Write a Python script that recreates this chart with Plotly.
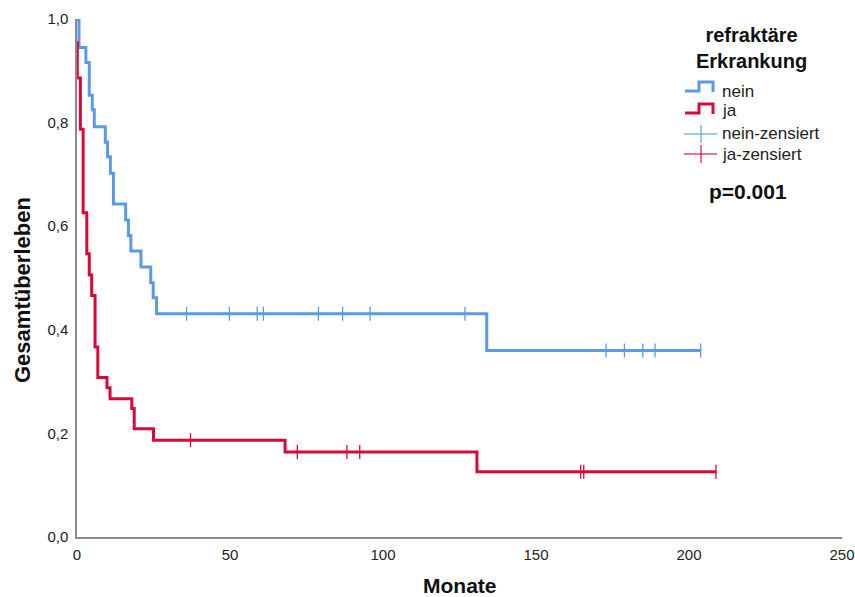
import plotly.graph_objects as go

# ---------------- data ----------------
# group "nein" (blue): times where the survival level changes, and the level after the change
nein_times = [0.0, 0.65, 2.9, 4.0, 5.0, 5.65, 9.25, 10.0, 10.9, 11.9, 15.9, 16.8, 17.6, 20.9, 24.1, 24.9, 26.0, 133.9]
nein_surv = [1.0, 0.945, 0.916, 0.853, 0.825, 0.792, 0.762, 0.734, 0.702, 0.643, 0.612, 0.582, 0.552, 0.521, 0.491, 0.462, 0.431, 0.360]
nein_end = 204.0
nein_censored = [35.8, 49.8, 58.9, 60.9, 78.9, 86.8, 95.8, 126.8, 172.9, 178.9, 184.9, 188.9, 203.8]

# group "ja" (red)
ja_times = [0.0, 0.1, 1.1, 2.0, 3.2, 4.0, 4.8, 5.9, 6.8, 9.8, 10.8, 17.9, 18.7, 25.0, 68.0, 130.7]
ja_surv = [0.954, 0.886, 0.787, 0.626, 0.547, 0.506, 0.466, 0.367, 0.308, 0.288, 0.267, 0.248, 0.209, 0.187, 0.164, 0.126]
ja_end = 209.0
ja_censored = [37.1, 72.0, 88.2, 92.4, 164.6, 165.6, 208.8]

x_ticks = [0, 50, 100, 150, 200, 250]
y_ticks = [0.0, 0.2, 0.4, 0.6, 0.8, 1.0]
y_ticklabels = ["0,0", "0,2", "0,4", "0,6", "0,8", "1,0"]

legend_title = ["refraktäre", "Erkrankung"]
legend_labels = ["nein", "ja", "nein-zensiert", "ja-zensiert"]
p_text = "p=0.001"

BLUE = "#5A9AE6"
RED = "#D9083A"
BLUE_LIGHT = "rgba(90,154,230,0.75)"
RED_LIGHT = "rgba(217,8,58,0.75)"


def level_at(times, surv, t):
    v = surv[0]
    for ti, si in zip(times, surv):
        if ti <= t:
            v = si
    return v


W, H = 855, 597
L, R, T, B = 77, 13, 19, 60
PW, PH = W - L - R, H - T - B


def px(x):
    return (x - L) / PW


def py(y):
    return (H - B - y) / PH


fig = go.Figure()

for times, surv, end, cens, col in [
    (nein_times, nein_surv, nein_end, nein_censored, BLUE),
    (ja_times, ja_surv, ja_end, ja_censored, RED),
]:
    fig.add_trace(go.Scatter(
        x=times + [end], y=surv + [surv[-1]],
        mode="lines", line=dict(color=col, width=3, shape="hv"),
        showlegend=False, hoverinfo="skip",
    ))
    fig.add_trace(go.Scatter(
        x=cens, y=[level_at(times, surv, c) for c in cens],
        mode="markers",
        marker=dict(symbol="line-ns", size=10, line=dict(color=col, width=1.3)),
        showlegend=False, hoverinfo="skip", cliponaxis=False,
    ))

FONT = "Liberation Sans, Arial, sans-serif"

fig.update_layout(
    width=W, height=H,
    margin=dict(l=L, r=R, t=T, b=B, pad=0, autoexpand=False),
    paper_bgcolor="white", plot_bgcolor="white",
    font=dict(family=FONT, color="#222"),
    showlegend=False,
    xaxis=dict(
        range=[0, 250], tickvals=x_ticks, ticktext=[str(v) for v in x_ticks],
        showgrid=False, zeroline=False, showline=True, linecolor="#8a8a8a", linewidth=1.5,
        ticks="outside", ticklen=3, tickcolor="rgba(0,0,0,0)", automargin=False,
        tickfont=dict(size=15, color="#222", family=FONT),
    ),
    yaxis=dict(
        range=[0, 1], tickvals=y_ticks, ticktext=y_ticklabels,
        showgrid=False, zeroline=False, showline=True, linecolor="#8a8a8a", linewidth=1.5,
        ticks="outside", ticklen=4, tickcolor="rgba(0,0,0,0)", automargin=False,
        tickfont=dict(size=15, color="#222", family=FONT),
    ),
)

ann = []
# axis titles
ann.append(dict(x=px(460), y=py(585), xref="paper", yref="paper", text="<b>Monate</b>",
                showarrow=False, xanchor="center", yanchor="middle",
                font=dict(size=21, color="#111", family=FONT)))
ann.append(dict(x=px(22), y=py(290), xref="paper", yref="paper", text="<b>Gesamtüberleben</b>",
                showarrow=False, xanchor="center", yanchor="middle", textangle=-90,
                font=dict(size=22, color="#111", family=FONT)))
# legend title (two lines)
ann.append(dict(x=px(751), y=py(48), xref="paper", yref="paper",
                text="<b>%s</b>" % "<br>".join(legend_title),
                showarrow=False, xanchor="center", yanchor="middle", align="center",
                font=dict(size=20, color="#111", family=FONT)))
# legend labels
for lab, yc in zip(legend_labels, [91, 111, 133, 154]):
    ann.append(dict(x=px(720), y=py(yc), xref="paper", yref="paper", text=lab,
                    showarrow=False, xanchor="left", yanchor="middle",
                    font=dict(size=17, color="#222", family=FONT)))
# p value
ann.append(dict(x=px(748), y=py(191), xref="paper", yref="paper", text="<b>%s</b>" % p_text,
                showarrow=False, xanchor="center", yanchor="middle",
                font=dict(size=21, color="#111", family=FONT)))
fig.update_layout(annotations=ann)


def path(points):
    return "M " + " L ".join("%f,%f" % (px(a), py(b)) for a, b in points)


shapes = []
# step icons
for col, y0 in [(BLUE, 91), (RED, 113)]:
    shapes.append(dict(type="path", xref="paper", yref="paper",
                       path=path([(685, y0), (699, y0), (699, y0 - 9), (713, y0 - 9), (713, y0 + 1)]),
                       line=dict(color=col, width=3)))
# censored icons
for col, y0 in [(BLUE_LIGHT, 134), (RED_LIGHT, 154)]:
    shapes.append(dict(type="line", xref="paper", yref="paper",
                       x0=px(684), x1=px(717), y0=py(y0), y1=py(y0),
                       line=dict(color=col, width=1.5)))
    shapes.append(dict(type="line", xref="paper", yref="paper",
                       x0=px(701), x1=px(701), y0=py(y0 - 9), y1=py(y0 + 9),
                       line=dict(color=col, width=1.5)))
fig.update_layout(shapes=shapes)

fig.write_html("out.html")
